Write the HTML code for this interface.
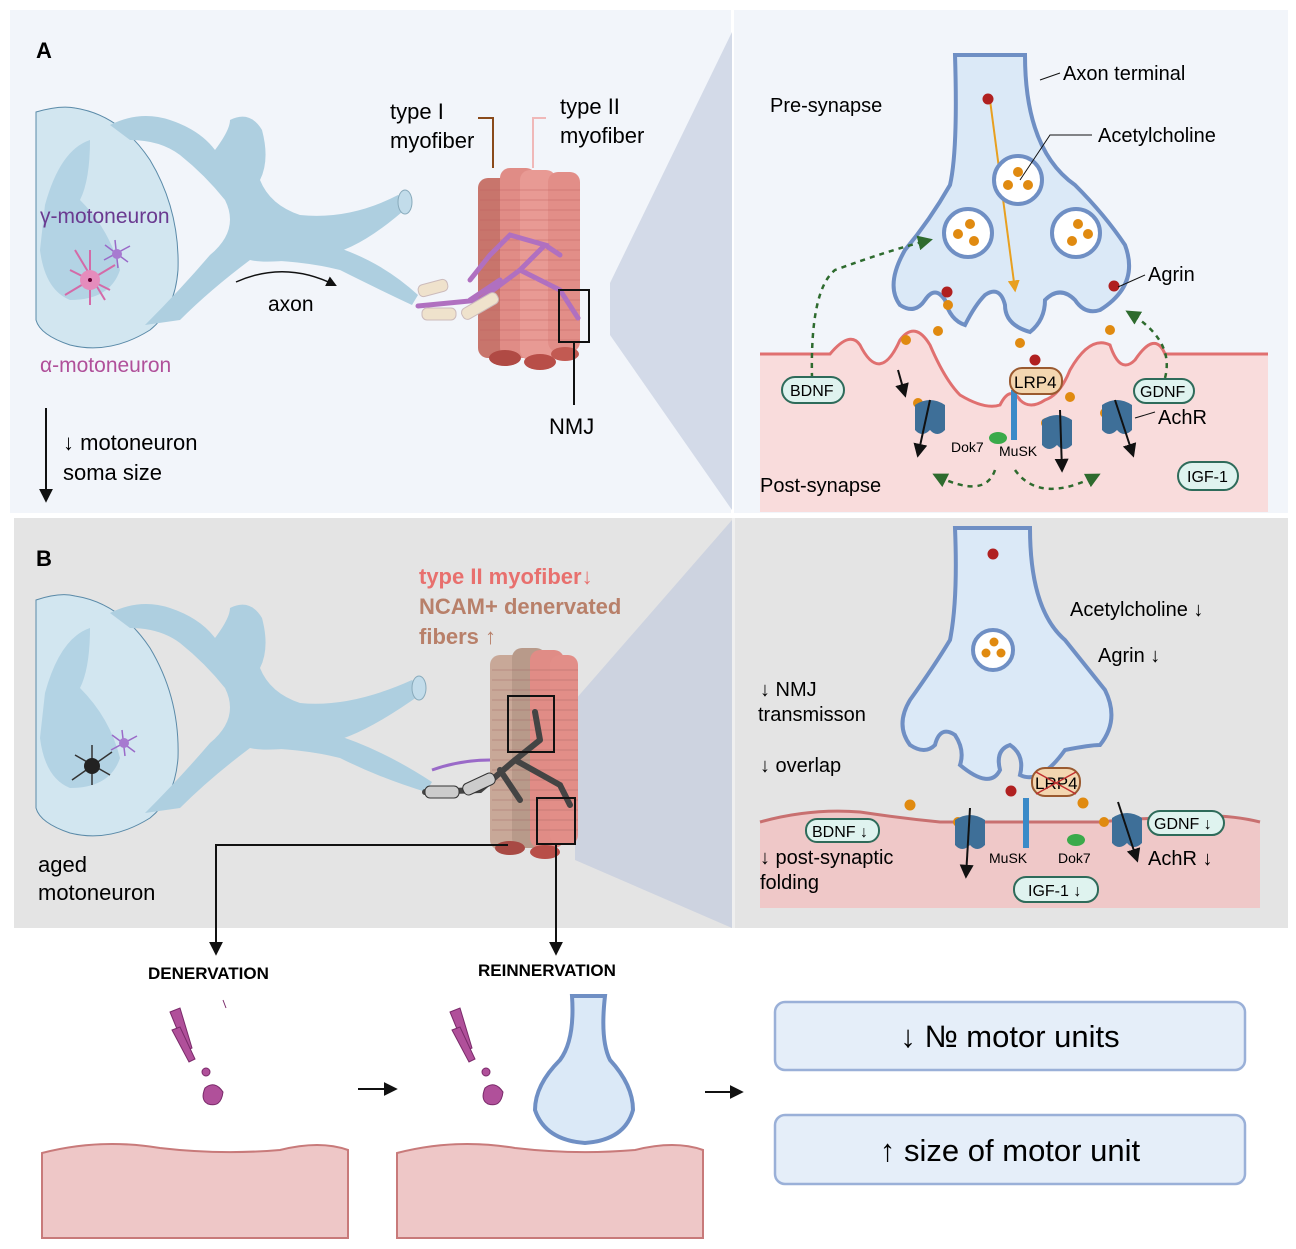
<!DOCTYPE html>
<html><head><meta charset="utf-8"><style>
body{margin:0;background:#fff}
svg{display:block;font-family:"Liberation Sans",sans-serif}
</style></head><body>
<svg width="1296" height="1249" viewBox="0 0 1296 1249" xmlns="http://www.w3.org/2000/svg">
<defs>
<marker id="ah" viewBox="0 0 10 10" refX="8" refY="5" markerWidth="7" markerHeight="7" orient="auto"><path d="M0,0L10,5L0,10z" fill="#111"/></marker>
<marker id="ag" viewBox="0 0 10 10" refX="8" refY="5" markerWidth="6" markerHeight="6" orient="auto"><path d="M0,0L10,5L0,10z" fill="#2e6b2e"/></marker>
<marker id="ao" viewBox="0 0 10 10" refX="8" refY="5" markerWidth="6" markerHeight="6" orient="auto"><path d="M0,0L10,5L0,10z" fill="#e8a020"/></marker>
</defs>
<rect x="10" y="10" width="1278" height="503" fill="#f2f5fa"/>
<rect x="731" y="10" width="3" height="503" fill="#fff"/>
<rect x="14" y="518" width="1274" height="410" fill="#e4e4e4"/>
<rect x="732" y="518" width="3" height="410" fill="#efefef"/>
<polygon points="732,32 732,510 610,335 610,283" fill="#d3dae8"/>
<polygon points="732,520 732,928 575,860 575,700" fill="#cdd3e0"/>

<text x="36" y="58" font-size="22" font-weight="bold">A</text>
<path d="M36,112 Q60,105 75,108 Q120,115 150,160 Q180,210 178,270 Q175,310 150,330 Q110,355 70,345 Q40,335 36,320Z" fill="#d2e6f0" stroke="#5a8aa8"/>
<path d="M45,205 Q60,150 90,140 Q90,180 80,200 Q110,230 120,270 Q110,300 70,300 Q45,290 40,250Z" fill="#b3d3e4"/>
<path d="M110,125 Q140,110 170,120 Q200,130 215,150 Q230,130 230,120 Q250,110 262,130 Q270,160 260,180 Q270,205 300,215 Q350,220 398,195 L410,205 Q360,250 325,255 Q270,265 250,260 Q210,290 180,320 L145,325 Q180,290 210,255 Q240,230 225,200 Q205,175 180,155 Q160,140 130,140Z" fill="#aecfe0"/>
<path d="M250,260 Q300,260 340,270 Q380,290 412,305 L418,295 Q380,260 330,245Z" fill="#aecfe0"/>
<ellipse cx="405" cy="202" rx="7" ry="12" fill="#c2dcea" stroke="#8ab"/>
<g stroke="#d46aa8" stroke-width="2" fill="none"><path d="M70,270L110,290M90,250L90,305M65,295L115,265M75,250L105,300"/></g>
<circle cx="90" cy="280" r="10" fill="#e58cbc"/><circle cx="90" cy="280" r="2" fill="#603"/>
<g stroke="#9a6ac8" stroke-width="1.5"><path d="M105,245L128,262M115,240L118,268M104,260L130,246"/></g>
<circle cx="117" cy="254" r="5" fill="#a77ad0"/>
<text x="40" y="223" font-size="21" fill="#6a3a90">γ-motoneuron</text>
<text x="40" y="372" font-size="21" fill="#b0509a">α-motoneuron</text>
<path d="M236,282 Q285,260 335,285" stroke="#111" stroke-width="1.5" fill="none" marker-end="url(#ah)"/>
<text x="268" y="311" font-size="21">axon</text>
<line x1="46" y1="408" x2="46" y2="500" stroke="#111" stroke-width="2" marker-end="url(#ah)"/>
<text x="63" y="450" font-size="22">↓ motoneuron</text>
<text x="63" y="480" font-size="22">soma size</text>
<g>
<rect x="478" y="178" width="34" height="180" rx="10" fill="#c8756c"/>
<rect x="500" y="168" width="36" height="190" rx="10" fill="#e08c86"/>
<rect x="520" y="170" width="36" height="190" rx="10" fill="#e89a94"/>
<rect x="548" y="172" width="32" height="180" rx="10" fill="#e28e88"/>
<g stroke="#c06060" stroke-width="0.8" opacity="0.6">
<path d="M480,190H580M480,200H580M480,210H580M480,220H580M480,230H580M480,240H580M480,250H580M480,260H580M480,270H580M480,280H580M480,290H580M480,300H580M480,310H580M480,320H580M480,330H580M480,340H580"/></g>
<ellipse cx="505" cy="358" rx="16" ry="8" fill="#b04a44"/><ellipse cx="540" cy="362" rx="16" ry="8" fill="#b84e48"/><ellipse cx="565" cy="354" rx="14" ry="7" fill="#c25a52"/>
<path d="M418,306 L480,300 L520,270 L545,245 L510,235 L490,255 L470,280 M520,270 L560,290 L578,318 M545,245 L560,255 M500,280 L470,300" stroke="#b070c0" stroke-width="5" fill="none" stroke-linecap="round"/>
<rect x="418" y="282" width="30" height="12" rx="5" fill="#efe2cc" stroke="#cbb" transform="rotate(-15 433 288)"/>
<rect x="422" y="308" width="34" height="12" rx="5" fill="#efe2cc" stroke="#cbb"/>
<rect x="460" y="300" width="40" height="12" rx="5" fill="#efe2cc" stroke="#cbb" transform="rotate(-30 480 306)"/>
</g>
<rect x="559" y="290" width="30" height="52" fill="none" stroke="#111" stroke-width="2"/>
<line x1="574" y1="342" x2="574" y2="405" stroke="#111" stroke-width="2"/>
<text x="549" y="434" font-size="22">NMJ</text>
<path d="M478,118H493V168" stroke="#8a4a1a" stroke-width="2" fill="none"/>
<path d="M546,118H533V168" stroke="#f0b8b8" stroke-width="2" fill="none"/>
<text x="390" y="119" font-size="22">type I</text><text x="390" y="148" font-size="22">myofiber</text>
<text x="560" y="114" font-size="22">type II</text><text x="560" y="143" font-size="22">myofiber</text>

<path d="M760,354 H830 Q850,330 860,345 Q880,385 900,340 Q915,320 930,345 Q945,380 960,395 Q985,410 1000,405 Q1010,385 1020,400 Q1030,410 1045,400 Q1060,395 1070,370 Q1090,335 1110,345 Q1120,375 1135,360 Q1155,330 1165,354 H1268 V512 H760Z" fill="#f9dcdc"/>
<path d="M760,354 H830 Q850,330 860,345 Q880,385 900,340 Q915,320 930,345 Q945,380 960,395 Q985,410 1000,405 Q1010,385 1020,400 Q1030,410 1045,400 Q1060,395 1070,370 Q1090,335 1110,345 Q1120,375 1135,360 Q1155,330 1165,354 H1268" fill="none" stroke="#e07070" stroke-width="3"/>
<path d="M955,55 Q958,150 950,185 Q930,220 905,250 Q885,285 900,305 Q915,315 925,300 Q935,285 945,300 Q950,320 965,325 Q975,305 985,295 Q1000,285 1005,305 Q1005,325 1030,332 Q1045,320 1045,300 Q1060,285 1075,300 Q1085,315 1100,310 Q1140,285 1125,245 Q1105,215 1075,185 Q1025,150 1025,55Z" fill="#dbe9f7" stroke="#6f8fc4" stroke-width="4"/>
<line x1="990" y1="100" x2="1015" y2="290" stroke="#e8a020" stroke-width="2" marker-end="url(#ao)"/>
<g fill="#fff" stroke="#6f8fc4" stroke-width="4"><circle cx="1018" cy="180" r="24"/><circle cx="968" cy="233" r="24"/><circle cx="1076" cy="233" r="24"/></g>
<g fill="#e08a10"><circle cx="1018" cy="172" r="5"/><circle cx="1008" cy="185" r="5"/><circle cx="1028" cy="185" r="5"/><circle cx="970" cy="224" r="5"/><circle cx="958" cy="234" r="5"/><circle cx="974" cy="241" r="5"/><circle cx="1078" cy="224" r="5"/><circle cx="1088" cy="234" r="5"/><circle cx="1072" cy="241" r="5"/>
<circle cx="948" cy="305" r="5"/><circle cx="906" cy="340" r="5"/><circle cx="938" cy="331" r="5"/><circle cx="1020" cy="343" r="5"/><circle cx="1110" cy="330" r="5"/><circle cx="1070" cy="397" r="5"/><circle cx="918" cy="403" r="5"/><circle cx="1046" cy="423" r="5"/><circle cx="1105" cy="413" r="5"/></g>
<g fill="#b02020"><circle cx="988" cy="99" r="5.5"/><circle cx="947" cy="292" r="5.5"/><circle cx="1114" cy="286" r="5.5"/><circle cx="1035" cy="360" r="5.5"/></g>
<path d="M1040,80 L1060,73" stroke="#111"/><text x="1063" y="80" font-size="20">Axon terminal</text>
<path d="M1020,180 L1050,135 H1092" stroke="#111" fill="none"/><text x="1098" y="142" font-size="20">Acetylcholine</text>
<path d="M1118,287 L1145,275" stroke="#111"/><text x="1148" y="281" font-size="20">Agrin</text>
<text x="770" y="112" font-size="20">Pre-synapse</text>
<text x="760" y="492" font-size="20">Post-synapse</text>
<path d="M812,378 Q810,290 835,270 Q890,250 930,240" stroke="#2e6b2e" stroke-width="2.5" stroke-dasharray="5,5" fill="none" marker-end="url(#ag)"/>
<path d="M1165,378 Q1175,340 1128,312" stroke="#2e6b2e" stroke-width="2.5" stroke-dasharray="5,5" fill="none" marker-end="url(#ag)"/>
<path d="M995,470 Q985,500 935,475" stroke="#2e6b2e" stroke-width="2.5" stroke-dasharray="5,5" fill="none" marker-end="url(#ag)"/>
<path d="M1015,470 Q1040,505 1098,475" stroke="#2e6b2e" stroke-width="2.5" stroke-dasharray="5,5" fill="none" marker-end="url(#ag)"/>
<g fill="#3e6f98"><path d="M915,405 q15,-10 30,0 v25 q-8,8 -15,0 q-8,8 -15,0z"/><path d="M1042,420 q15,-10 30,0 v25 q-8,8 -15,0 q-8,8 -15,0z"/><path d="M1102,405 q15,-10 30,0 v25 q-8,8 -15,0 q-8,8 -15,0z"/></g>
<g stroke="#111" stroke-width="2"><line x1="930" y1="400" x2="918" y2="455" marker-end="url(#ah)"/><line x1="1060" y1="410" x2="1062" y2="470" marker-end="url(#ah)"/><line x1="1115" y1="400" x2="1133" y2="455" marker-end="url(#ah)"/><line x1="898" y1="370" x2="905" y2="395" marker-end="url(#ah)"/></g>
<rect x="1011" y="390" width="6" height="50" fill="#3a8ac8"/>
<ellipse cx="998" cy="438" rx="9" ry="6" fill="#3aaa4a"/>
<text x="951" y="452" font-size="14">Dok7</text><text x="999" y="456" font-size="14">MuSK</text>
<rect x="1010" y="368" width="52" height="26" rx="12" fill="#f3d6b0" stroke="#9a5a30" stroke-width="2"/><text x="1014" y="388" font-size="17">LRP4</text>
<rect x="782" y="377" width="62" height="26" rx="13" fill="#dff3ef" stroke="#2e6b5a" stroke-width="2"/><text x="790" y="396" font-size="16">BDNF</text>
<rect x="1134" y="379" width="60" height="24" rx="12" fill="#dff3ef" stroke="#2e6b5a" stroke-width="2"/><text x="1140" y="397" font-size="16">GDNF</text>
<rect x="1178" y="462" width="60" height="28" rx="14" fill="#dff3ef" stroke="#2e6b5a" stroke-width="2"/><text x="1187" y="482" font-size="16">IGF-1</text>
<path d="M1135,418 L1155,412" stroke="#111"/><text x="1158" y="424" font-size="20">AchR</text>

<text x="36" y="566" font-size="22" font-weight="bold">B</text>
<path d="M36,600 Q60,592 75,596 Q120,603 150,648 Q180,698 178,758 Q175,798 150,818 Q110,843 70,833 Q40,823 36,808Z" fill="#d2e6f0" stroke="#5a8aa8"/>
<path d="M45,693 Q60,638 90,628 Q90,668 80,688 Q110,718 120,758 Q110,788 70,788 Q45,778 40,738Z" fill="#b3d3e4"/>
<path d="M110,613 Q140,598 170,608 Q200,618 215,638 Q230,618 230,608 Q250,598 262,618 Q270,648 260,668 Q270,693 300,703 Q350,708 412,680 L424,692 Q360,738 325,743 Q270,753 250,748 Q210,778 180,808 L145,813 Q180,778 210,743 Q240,718 225,688 Q205,663 180,643 Q160,628 130,628Z" fill="#aecfe0"/>
<path d="M250,748 Q300,748 340,758 Q380,778 426,792 L432,782 Q380,748 330,733Z" fill="#aecfe0"/>
<ellipse cx="419" cy="688" rx="7" ry="12" fill="#c2dcea" stroke="#8ab"/>
<g stroke="#333" stroke-width="1.5"><path d="M75,755L110,775M92,745L92,785M72,780L112,752"/></g><circle cx="92" cy="766" r="8" fill="#222"/>
<g stroke="#9a6ac8" stroke-width="1.5"><path d="M112,735L135,752M122,730L125,756M111,750L137,736"/></g><circle cx="124" cy="743" r="5" fill="#a77ad0"/>
<text x="38" y="872" font-size="22">aged</text><text x="38" y="900" font-size="22">motoneuron</text>
<text x="419" y="584" font-size="22" font-weight="bold" fill="#e8706e">type II myofiber↓</text>
<text x="419" y="614" font-size="22" font-weight="bold" fill="#b8806a">NCAM+ denervated</text>
<text x="419" y="644" font-size="22" font-weight="bold" fill="#b8806a">fibers ↑</text>
<rect x="490" y="655" width="32" height="195" rx="10" fill="#c8a898"/>
<rect x="512" y="648" width="34" height="200" rx="10" fill="#b89a8a"/>
<rect x="530" y="650" width="34" height="198" rx="10" fill="#e08c86"/>
<rect x="550" y="655" width="28" height="190" rx="10" fill="#e28e88"/>
<g stroke="#a06060" stroke-width="0.8" opacity="0.5"><path d="M492,670H578M492,680H578M492,690H578M492,700H578M492,710H578M492,720H578M492,730H578M492,740H578M492,750H578M492,760H578M492,770H578M492,780H578M492,790H578M492,800H578M492,810H578M492,820H578M492,830H578"/></g>
<ellipse cx="510" cy="848" rx="15" ry="7" fill="#a84a44"/><ellipse cx="545" cy="852" rx="15" ry="7" fill="#b84e48"/>
<path d="M425,792 L480,790 L515,760 L540,740 M515,760 L560,785 L570,805 M500,770 L520,800 M540,740 L535,712" stroke="#444" stroke-width="6" fill="none" stroke-linecap="round"/>
<rect x="425" y="786" width="34" height="12" rx="5" fill="#ccc" stroke="#333"/><rect x="462" y="778" width="34" height="12" rx="5" fill="#ccc" stroke="#333" transform="rotate(-25 479 784)"/>
<path d="M432,770 Q460,760 490,760" stroke="#9a6ac8" stroke-width="3" fill="none"/>
<rect x="508" y="696" width="46" height="56" fill="none" stroke="#111" stroke-width="2"/>
<rect x="537" y="798" width="38" height="46" fill="none" stroke="#111" stroke-width="2"/>
<path d="M508,845 H216 V953" stroke="#111" stroke-width="2" fill="none" marker-end="url(#ah)"/>
<line x1="556" y1="844" x2="556" y2="953" stroke="#111" stroke-width="2" marker-end="url(#ah)"/>

<path d="M760,822 Q810,808 860,812 Q900,818 940,822 H1100 Q1140,818 1170,818 Q1220,812 1260,822 V908 H760Z" fill="#efc8c8"/>
<path d="M760,822 Q810,808 860,812 Q900,818 940,822 H1100 Q1140,818 1170,818 Q1220,812 1260,822" fill="none" stroke="#c87070" stroke-width="3"/>
<path d="M955,528 Q958,600 950,640 Q935,665 910,700 Q895,725 910,745 Q925,755 935,745 Q940,725 955,735 Q965,750 960,765 Q990,790 1000,770 Q995,750 1010,745 Q1025,755 1020,775 Q1040,785 1065,750 Q1090,745 1100,745 Q1120,720 1105,690 Q1085,665 1065,640 Q1030,610 1030,528Z" fill="#dbe9f7" stroke="#6f8fc4" stroke-width="4"/>
<circle cx="993" cy="650" r="20" fill="#fff" stroke="#6f8fc4" stroke-width="4"/>
<g fill="#e08a10"><circle cx="994" cy="642" r="4.5"/><circle cx="986" cy="653" r="4.5"/><circle cx="1001" cy="653" r="4.5"/><circle cx="910" cy="805" r="5.5"/><circle cx="1083" cy="803" r="5.5"/><circle cx="958" cy="822" r="5"/><circle cx="1104" cy="822" r="5"/></g>
<g fill="#b02020"><circle cx="993" cy="554" r="5.5"/><circle cx="1011" cy="791" r="5.5"/></g>
<rect x="1032" y="768" width="48" height="28" rx="13" fill="#f3d6b0" stroke="#9a5a30" stroke-width="2"/><text x="1035" y="789" font-size="17">LRP4</text>
<path d="M1036,772 L1076,794 M1036,794 L1076,772" stroke="#c03030" stroke-width="1.5"/>
<rect x="1023" y="798" width="6" height="50" fill="#3a8ac8"/>
<ellipse cx="1076" cy="840" rx="9" ry="6" fill="#3aaa4a"/>
<g fill="#3e6f98"><path d="M955,820 q15,-10 30,0 v25 q-8,8 -15,0 q-8,8 -15,0z"/><path d="M1112,818 q15,-10 30,0 v25 q-8,8 -15,0 q-8,8 -15,0z"/></g>
<g stroke="#111" stroke-width="2"><line x1="970" y1="808" x2="966" y2="876" marker-end="url(#ah)"/><line x1="1118" y1="802" x2="1137" y2="860" marker-end="url(#ah)"/></g>
<text x="989" y="863" font-size="14">MuSK</text><text x="1058" y="863" font-size="14">Dok7</text>
<text x="1070" y="616" font-size="20">Acetylcholine ↓</text>
<text x="1098" y="662" font-size="20">Agrin ↓</text>
<text x="760" y="696" font-size="20">↓ NMJ</text><text x="758" y="721" font-size="20">transmisson</text>
<text x="760" y="772" font-size="20">↓ overlap</text>
<text x="760" y="864" font-size="20">↓ post-synaptic</text><text x="760" y="889" font-size="20">folding</text>
<text x="1148" y="865" font-size="20">AchR ↓</text>
<rect x="806" y="819" width="73" height="23" rx="11" fill="#dff3ef" stroke="#2e6b5a" stroke-width="2"/><text x="812" y="837" font-size="16">BDNF ↓</text>
<rect x="1148" y="811" width="76" height="24" rx="12" fill="#dff3ef" stroke="#2e6b5a" stroke-width="2"/><text x="1154" y="829" font-size="16">GDNF ↓</text>
<rect x="1014" y="877" width="84" height="25" rx="12" fill="#dff3ef" stroke="#2e6b5a" stroke-width="2"/><text x="1028" y="896" font-size="16">IGF-1 ↓</text>

<text x="148" y="979" font-size="17" font-weight="bold">DENERVATION</text>
<text x="478" y="976" font-size="17" font-weight="bold">REINNERVATION</text>
<g fill="#b0509a" stroke="#7a2a6a"><path d="M170,1012 l10,-4 l12,40 l-6,3z"/><path d="M172,1030 l8,-3 l15,32 l-6,3z"/><path d="M205,1088 q10,-8 18,4 q-2,16 -15,12 q-8,-4 -3,-16z"/><circle cx="206" cy="1072" r="4"/><path d="M223,1000 l3,8"/></g>
<g fill="#b0509a" stroke="#7a2a6a"><path d="M450,1012 l10,-4 l12,40 l-6,3z"/><path d="M452,1030 l8,-3 l15,32 l-6,3z"/><path d="M485,1088 q10,-8 18,4 q-2,16 -15,12 q-8,-4 -3,-16z"/><circle cx="486" cy="1072" r="4"/></g>
<path d="M42,1153 Q100,1138 160,1148 Q220,1155 280,1150 Q320,1140 348,1150 V1238 H42Z" fill="#eec7c7" stroke="#c87a7a" stroke-width="2"/>
<path d="M397,1153 Q455,1138 515,1148 Q575,1155 635,1150 Q675,1140 703,1150 V1238 H397Z" fill="#eec7c7" stroke="#c87a7a" stroke-width="2"/>
<path d="M572,996 Q575,1040 560,1060 Q535,1085 535,1110 Q545,1140 585,1143 Q625,1140 633,1110 Q633,1085 610,1060 Q600,1040 605,996Z" fill="#dbe9f7" stroke="#6f8fc4" stroke-width="4"/>
<line x1="358" y1="1089" x2="395" y2="1089" stroke="#111" stroke-width="2" marker-end="url(#ah)"/>
<line x1="705" y1="1092" x2="741" y2="1092" stroke="#111" stroke-width="2" marker-end="url(#ah)"/>
<rect x="775" y="1002" width="470" height="68" rx="10" fill="#e5eef9" stroke="#9ab0d8" stroke-width="2.5"/>
<text x="1010" y="1047" font-size="31" text-anchor="middle">↓ № motor units</text>
<rect x="775" y="1115" width="470" height="69" rx="10" fill="#e5eef9" stroke="#9ab0d8" stroke-width="2.5"/>
<text x="1010" y="1161" font-size="31" text-anchor="middle">↑ size of motor unit</text>
</svg>
</body></html>
